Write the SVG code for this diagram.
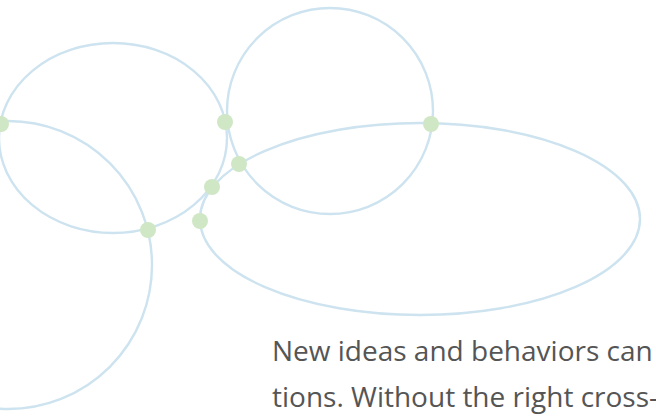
<svg xmlns="http://www.w3.org/2000/svg" width="656" height="419" viewBox="0 0 656 419">
<style>
.ring{fill:none;stroke:#cde3ef;stroke-width:2.4}
.dot{fill:#d0e7c6}
.t{font-family:"Open Sans","Liberation Sans",sans-serif;font-size:28px;fill:#555}
</style>
<rect width="656" height="419" fill="#fff"/>
<g id="connectors">
<ellipse class="ring" cx="113" cy="138" rx="114" ry="95"/>
<circle class="ring" cx="330" cy="111" r="103"/>
<ellipse class="ring" cx="420" cy="219" rx="220" ry="96"/>
<circle class="ring" cx="8" cy="265" r="144"/>
</g>
<g id="n1"><circle class="dot" cx="1" cy="124" r="8"/></g>
<g id="n2"><circle class="dot" cx="225" cy="122" r="8"/></g>
<g id="n3"><circle class="dot" cx="239" cy="164" r="8"/></g>
<g id="n4"><circle class="dot" cx="212" cy="187" r="8"/></g>
<g id="n5"><circle class="dot" cx="200" cy="221" r="8"/></g>
<g id="n6"><circle class="dot" cx="148" cy="230" r="8"/></g>
<g id="n7"><circle class="dot" cx="431" cy="124" r="8"/></g>
<g id="text">
<text class="t" x="272" y="361">New ideas and behaviors can</text>
<text class="t" x="272" y="407">tions. Without the right cross-</text>
</g>
</svg>
